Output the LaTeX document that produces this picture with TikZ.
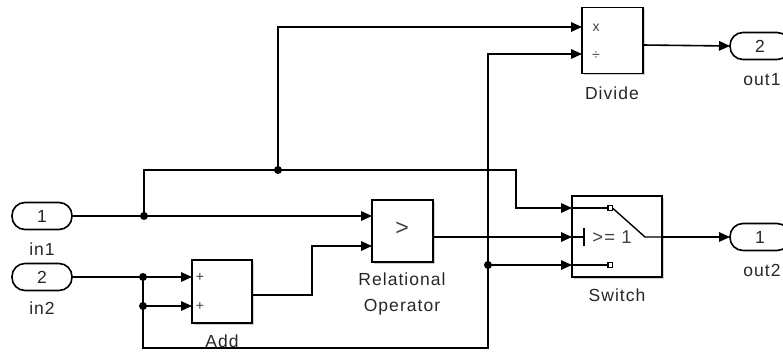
\documentclass[tikz,border=0pt]{standalone}
\usepackage{fontspec}
\setmainfont{Liberation Sans}[LetterSpace=6]
\usetikzlibrary{arrows.meta,shadows}
\definecolor{lbl}{HTML}{262626}
\definecolor{plbl}{HTML}{404040}
\begin{document}
\begin{tikzpicture}[x=1pt,y=-1pt,
  wire/.style={line width=1.6pt,black},
  arr/.style={wire,-{Triangle[length=11pt,width=9.5pt]}},
  blk/.style={draw,line width=1.6pt,fill=white,inner sep=0pt,outer sep=0pt,
    drop shadow={shadow xshift=1.5pt,shadow yshift=-1.5pt,fill=black,opacity=0.18}},
  term/.style={draw,line width=1.6pt,fill=white,rounded corners=13pt,inner sep=0pt,outer sep=0pt,
    minimum width=60pt,minimum height=27pt,font=\fontsize{17.5}{20}\selectfont,text=lbl},
  lab/.style={font=\fontsize{17.5}{26}\selectfont,text=lbl,inner sep=0pt,align=center},
  plab/.style={font=\fontsize{14}{16}\selectfont,text=plbl,inner sep=0pt},
  jdot/.style={circle,fill=black,inner sep=0pt,minimum size=8pt}
]
\useasboundingbox (0,0) rectangle (783,351);
\clip (0,0) rectangle (783,351);

% blocks
\node[blk,minimum width=61pt,minimum height=66pt] (div) at (612.5,40.5) {};
\node[blk,minimum width=61pt,minimum height=62pt] (rel) at (402.5,231) {};
\node[blk,minimum width=60pt,minimum height=63pt] (add) at (222,291.5) {};
\node[blk,minimum width=90pt,minimum height=81pt] (sw) at (617,236.5) {};

% terminals
\node[term] (in1) at (42,216) {1};
\node[term] (in2) at (42,277) {2};
\node[term] (out1) at (760,46) {2};
\node[term] (out2) at (760,237) {1};

% labels
\node[lab] (lin1) at (42,249) {in1};
\node[lab] (lin2) at (42,308) {in2};
\node[lab] (lout1) at (762,80) {out1};
\node[lab] (lout2) at (762,270) {out2};
\node[lab] (ldiv) at (612,93) {Divide};
\node[lab] (ladd) at (222,341) {Add};
\node[lab] (lrel) at (402,294) {Relational\\Operator};
\node[lab] (lsw) at (617,295) {Switch};

% port labels
\node[plab] (px) at (596,28) {x};
\node[plab] (pd) at (596,56) {÷};
\node[plab] (pa1) at (200,277) {+};
\node[plab] (pa2) at (200,306) {+};
\node[font=\fontsize{23}{24}\selectfont,text=plbl,inner sep=0pt] (pgt) at (402,229) {>};

% switch internals
\draw[wire,line width=1.4pt] (572,208) -- (608,208);
\draw[wire,line width=1.3pt] (608,205.5) rectangle (612.5,210.5);
\draw[wire,line width=1.4pt] (612.5,208) -- (645,237) -- (662,237);
\draw[wire,line width=1.4pt] (572,237) -- (584,237);
\draw[wire,line width=1.4pt] (584,228) -- (584,246);
\node[font=\fontsize{18.5}{20}\selectfont,text=plbl,inner sep=0pt] (swtxt) at (612,237) {>= 1};
\draw[wire,line width=1.4pt] (572,265) -- (608,265);
\draw[wire,line width=1.3pt] (608,262.5) rectangle (612.5,267.5);

% port coordinates
\coordinate (div-i1) at (582,27);
\coordinate (div-i2) at (582,54);
\coordinate (div-o) at (643,45);
\coordinate (rel-i1) at (372,216);
\coordinate (rel-i2) at (372,246);
\coordinate (rel-o) at (433,237);
\coordinate (add-i1) at (192,277);
\coordinate (add-i2) at (192,306);
\coordinate (add-o) at (252,295);
\coordinate (sw-i1) at (572,208);
\coordinate (sw-i2) at (572,237);
\coordinate (sw-i3) at (572,265);
\coordinate (sw-o) at (662,237);

% junctions
\node[jdot] (j1) at (144,216) {};
\node[jdot] (j2) at (278,170) {};
\node[jdot] (j3) at (143,277) {};
\node[jdot] (j4) at (143,306) {};
\node[jdot] (j5) at (488,265) {};

% connectors
\draw[arr] (in1.east) -- (rel-i1);
\draw[arr] (j1.center) |- (j2.center) -- (516,170) |- (sw-i1);
\draw[arr] (j2.center) |- (div-i1);
\draw[arr] (in2.east) -- (add-i1);
\draw[wire] (j3.center) -- (j4.center);
\draw[arr] (j4.center) -- (add-i2);
\draw[arr] (j4.center) |- (488,348) |- (div-i2);
\draw[arr] (j5.center) -- (sw-i3);
\draw[arr] (add-o) -| (312,246) -- (rel-i2);
\draw[arr] (rel-o) -- (sw-i2);
\draw[arr] (div-o) -- (out1.west);
\draw[arr] (sw-o) -- (out2.west);
\end{tikzpicture}
\end{document}
